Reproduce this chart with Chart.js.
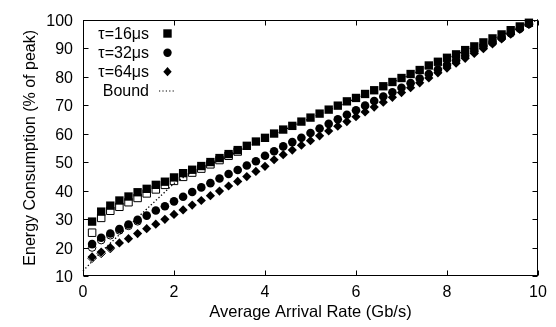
<!DOCTYPE html>
<html><head><meta charset="utf-8">
<script src="https://cdn.jsdelivr.net/npm/chart.js@4/dist/chart.umd.min.js"></script>
<style>html,body{margin:0;padding:0;background:#fff}</style>
</head><body>
<canvas id="c" width="556" height="327"></canvas>
<script>
// ---- data ----
const arrivalRate = [0.2,0.4,0.6,0.8,1.0,1.2,1.4,1.6,1.8,2.0,2.2,2.4,2.6,2.8,3.0,3.2,3.4,3.6,3.8,4.0,4.2,4.4,4.6,4.8,5.0,5.2,5.4,5.6,5.8,6.0,6.2,6.4,6.6,6.8,7.0,7.2,7.4,7.6,7.8,8.0,8.2,8.4,8.6,8.8,9.0,9.2,9.4,9.6,9.8];
const tau16 = [29.1,32.6,34.7,36.5,37.9,39.4,40.6,42.0,43.1,44.6,46.1,47.3,48.6,50.0,51.4,52.8,54.2,55.7,57.2,58.5,60.0,61.4,62.7,64.2,65.6,67.0,68.4,69.8,71.3,72.5,73.9,75.2,76.6,78.1,79.5,80.9,82.3,83.9,85.2,86.6,87.8,89.3,90.6,92.0,93.4,94.8,96.3,97.6,98.9];
const tau32 = [21.2,23.4,24.9,26.5,28.1,29.7,31.2,33.0,34.5,36.2,37.8,39.5,41.1,42.6,44.2,45.8,47.2,48.8,50.3,52.2,53.8,55.5,57.0,58.5,60.2,61.8,63.4,65.0,66.6,68.2,69.8,71.4,73.0,74.5,76.1,77.7,79.3,80.9,82.5,84.1,85.7,87.3,88.9,90.5,92.0,93.6,95.2,96.8,98.5];
const tau64 = [16.7,18.4,20.0,21.6,23.1,24.9,26.6,28.2,29.9,31.6,33.2,34.9,36.5,38.2,39.8,41.6,43.2,44.9,46.7,48.5,50.8,52.6,54.2,55.9,57.5,59.2,60.9,62.6,64.2,65.9,67.6,69.3,71.0,72.7,74.4,76.1,77.8,79.5,81.3,83.0,84.7,86.4,88.1,89.8,91.5,93.2,94.9,96.6,98.3];
// hollow markers (partly hidden behind the filled ones)
const openRate16 = [0.2,0.4,0.6,0.8,1.0,1.2,1.4,1.6,1.8,2.0,2.2,2.4,2.6,2.8,3.0,3.2,3.4];
const open16 = [25.2,30.4,32.9,34.3,35.9,37.4,39.0,40.4,42.0,43.4,44.8,46.3,47.7,49.2,50.7,52.2,53.7];
const openRate32 = [0.2,0.4,0.6,0.8,1.0,1.2];
const open32 = [20.0,22.6,24.3,26.0,27.6,29.2];
const openRate64 = [0.2,0.4,0.6];
const open64 = [16.2,17.9,19.6];
// bound (dotted)
const boundRate = [0,0.5,1,1.5,2,2.5,3,4,5,6,7,8,9,10];
const boundVal = [11.8,20.0,27.5,35.0,42.5,47.6,50.5,58.3,65.4,72.3,79.3,86.4,93.2,100];
const xTicks = [0,2,4,6,8,10];
const yTicks = [10,20,30,40,50,60,70,80,90,100];
const legendLabels = ['τ=16μs','τ=32μs','τ=64μs','Bound'];

const FONT = "'Liberation Sans', Arial, Helvetica, sans-serif";
Chart.defaults.font.family = FONT;
Chart.defaults.font.size = 16;
Chart.defaults.color = '#000';

const pts = (xs, ys) => xs.map((x, i) => ({x, y: ys[i]}));

const filled = (label, data, style, r) => ({label, data, pointStyle: style, pointRadius: r, pointHoverRadius: r,
  backgroundColor: '#000', borderColor: '#000', borderWidth: 0, showLine: false, order: 1, clip: false});
const hollow = (label, data, style, r) => ({label, data, pointStyle: style, pointRadius: r, pointHoverRadius: r,
  backgroundColor: '#fff', borderColor: '#000', borderWidth: 1, showLine: false, order: 3, clip: false});

const framePlugin = {
  id: 'frame',
  afterDatasetsDraw(chart) {
    const {ctx, chartArea: a, scales: {x, y}} = chart;
    ctx.save();
    ctx.strokeStyle = '#000';
    ctx.lineWidth = 1;
    const L = Math.round(a.left) + 0.5, R = Math.round(a.right) - 0.5;
    const T = Math.round(a.top) + 0.5, B = Math.round(a.bottom) - 0.5;
    ctx.strokeRect(L, T, R - L, B - T);
    ctx.beginPath();
    for (const t of x.ticks) {
      const px = Math.round(x.getPixelForValue(t.value)) + 0.5;
      ctx.moveTo(px, B); ctx.lineTo(px, B - 5);
      ctx.moveTo(px, T); ctx.lineTo(px, T + 5);
    }
    for (const t of y.ticks) {
      const py = Math.round(y.getPixelForValue(t.value)) + 0.5;
      ctx.moveTo(L, py); ctx.lineTo(L + 5, py);
      ctx.moveTo(R, py); ctx.lineTo(R - 5, py);
    }
    ctx.stroke();

    // legend
    const textRight = 149, mx = 167.5;
    const rows = [33.5, 52.7, 71.7, 90.5];
    ctx.font = '16px ' + FONT;
    ctx.fillStyle = '#000';
    ctx.textAlign = 'right';
    ctx.textBaseline = 'middle';
    legendLabels.forEach((lab, i) => ctx.fillText(lab, textRight, rows[i] + 1));
    ctx.fillRect(mx - 4.2, rows[0] - 4.2, 8.4, 8.4);
    ctx.beginPath(); ctx.arc(mx, rows[1], 4.2, 0, Math.PI * 2); ctx.fill();
    ctx.beginPath();
    ctx.moveTo(mx, rows[2] - 4.6); ctx.lineTo(mx + 4.2, rows[2]); ctx.lineTo(mx, rows[2] + 4.6); ctx.lineTo(mx - 4.2, rows[2]);
    ctx.closePath(); ctx.fill();
    ctx.beginPath();
    ctx.lineWidth = 1.2;
    ctx.setLineDash([1.2, 2.2]);
    ctx.moveTo(159, rows[3] + 0.5); ctx.lineTo(176, rows[3] + 0.5);
    ctx.stroke();
    ctx.restore();
  }
};

new Chart(document.getElementById('c'), {
  type: 'scatter',
  data: {
    datasets: [
      filled(legendLabels[0], pts(arrivalRate, tau16), 'rect', 5.9),
      filled(legendLabels[1], pts(arrivalRate, tau32), 'circle', 4.3),
      filled(legendLabels[2], pts(arrivalRate, tau64), 'rectRot', 4.6),
      hollow('τ=16μs (open)', pts(openRate16, open16), 'rect', 5.3),
      hollow('τ=32μs (open)', pts(openRate32, open32), 'circle', 3.8),
      hollow('τ=64μs (open)', pts(openRate64, open64), 'rectRot', 4.2),
      {label: legendLabels[3], data: pts(boundRate, boundVal), showLine: true, pointRadius: 0,
       borderColor: '#000', borderWidth: 1.3, borderDash: [1.3, 2.2], fill: false, order: 2, clip: false}
    ]
  },
  options: {
    responsive: false,
    animation: false,
    devicePixelRatio: 1,
    layout: {padding: {top: 13, right: 18, left: 0, bottom: 0}},
    plugins: {legend: {display: false}, tooltip: {enabled: false}},
    scales: {
      x: {
        type: 'linear', min: 0, max: 10,
        afterBuildTicks: s => { s.ticks = xTicks.map(v => ({value: v})); },
        afterFit: s => { s.height = 51; },
        grid: {drawOnChartArea: false, drawTicks: false},
        border: {display: false},
        ticks: {padding: 7, font: {size: 16}, color: '#000'},
        title: {display: true, text: 'Average Arrival Rate (Gb/s)', font: {size: 16.5}, color: '#000', padding: {top: 0, bottom: 5}}
      },
      y: {
        type: 'linear', min: 10, max: 100,
        afterBuildTicks: s => { s.ticks = yTicks.map(v => ({value: v})); },
        afterFit: s => { s.width = 83; },
        grid: {drawOnChartArea: false, drawTicks: false},
        border: {display: false},
        ticks: {padding: 10, font: {size: 16}, color: '#000', labelOffset: 2},
        title: {display: true, text: 'Energy Consumption (% of peak)', font: {size: 16}, color: '#000', padding: {top: 21, bottom: 0}}
      }
    }
  },
  plugins: [framePlugin]
});
</script>
</body></html>
